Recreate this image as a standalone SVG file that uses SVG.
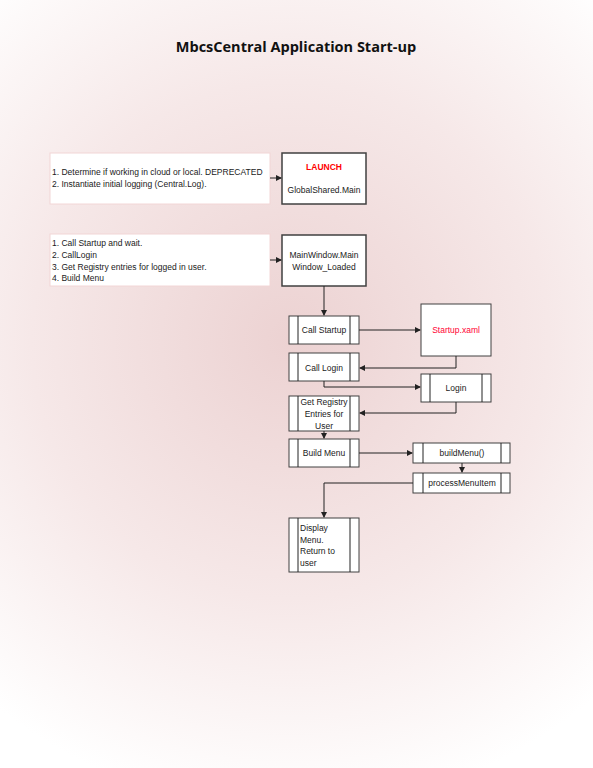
<svg xmlns="http://www.w3.org/2000/svg" width="593" height="768" viewBox="0 0 593 768">
<defs>
<radialGradient id="bg" gradientUnits="userSpaceOnUse" cx="290" cy="340" r="470">
<stop offset="0" stop-color="#ecd2d2"/>
<stop offset="0.55" stop-color="#f6e8e8"/>
<stop offset="1" stop-color="#ffffff"/>
</radialGradient>
<marker id="ah" markerWidth="6" markerHeight="6" refX="5" refY="3" orient="auto" markerUnits="userSpaceOnUse">
<path d="M0,0 L6,3 L0,6 Z" fill="#222"/>
</marker>
<style>
.t{font-family:"Liberation Sans",Arial,sans-serif;font-size:8.5px;fill:#1a1a1a}
.c{text-anchor:middle}
.note{fill:#ffffff;stroke:#f2d6d6;stroke-width:1}
.box{fill:#ffffff;stroke:#404040;stroke-width:1.5}
.sub{fill:#ffffff;stroke:#404040;stroke-width:1}
.ln{fill:none;stroke:#222;stroke-width:1}
.red{fill:#ff0000;font-weight:bold}
</style>
</defs>
<rect x="0" y="0" width="593" height="768" fill="url(#bg)"/>
<text x="296" y="52" text-anchor="middle" style="font-family:'Open Sans','Liberation Sans',sans-serif;font-size:14.5px;font-weight:bold;fill:#111">MbcsCentral Application Start-up</text>

<g id="note1">
<rect class="note" x="50" y="153" width="220" height="51"/>
<text class="t" x="52" y="175">1. Determine if working in cloud or local. DEPRECATED</text>
<text class="t" x="52" y="187">2. Instantiate initial logging (Central.Log).</text>
</g>
<g id="launch">
<rect class="box" x="282" y="153" width="84" height="51"/>
<text class="t c red" x="324" y="170">LAUNCH</text>
<text class="t c" x="324" y="193">GlobalShared.Main</text>
</g>
<g id="note2">
<rect class="note" x="50" y="234" width="220" height="52"/>
<text class="t" x="52" y="246">1. Call Startup and wait.</text>
<text class="t" x="52" y="258">2. CallLogin</text>
<text class="t" x="52" y="270">3. Get Registry entries for logged in user.</text>
<text class="t" x="52" y="281">4. Build Menu</text>
</g>
<g id="mainwindow">
<rect class="box" x="282" y="235" width="84" height="51"/>
<text class="t c" x="324" y="258">MainWindow.Main</text>
<text class="t c" x="324" y="270">Window_Loaded</text>
</g>
<g id="callstartup">
<rect class="sub" x="289" y="316" width="70" height="28"/>
<line class="ln" x1="298" y1="316" x2="298" y2="344"/>
<line class="ln" x1="350" y1="316" x2="350" y2="344"/>
<text class="t c" x="324" y="333">Call Startup</text>
</g>
<g id="startupxaml">
<rect class="sub" x="421" y="304" width="70" height="52"/>
<text class="t c" x="456" y="333" style="fill:#ff0033">Startup.xaml</text>
</g>
<g id="calllogin">
<rect class="sub" x="289" y="353" width="70" height="28"/>
<line class="ln" x1="298" y1="353" x2="298" y2="381"/>
<line class="ln" x1="350" y1="353" x2="350" y2="381"/>
<text class="t c" x="324" y="371">Call Login</text>
</g>
<g id="login">
<rect class="sub" x="421" y="374" width="70" height="28"/>
<line class="ln" x1="430" y1="374" x2="430" y2="402"/>
<line class="ln" x1="482" y1="374" x2="482" y2="402"/>
<text class="t c" x="456" y="391">Login</text>
</g>
<g id="getregistry">
<rect class="sub" x="289" y="396" width="70" height="35"/>
<line class="ln" x1="298" y1="396" x2="298" y2="431"/>
<line class="ln" x1="350" y1="396" x2="350" y2="431"/>
<text class="t c" x="324" y="405">Get Registry</text>
<text class="t c" x="324" y="417">Entries for</text>
<text class="t c" x="324" y="429">User</text>
</g>
<g id="buildmenu">
<rect class="sub" x="289" y="439" width="70" height="28"/>
<line class="ln" x1="298" y1="439" x2="298" y2="467"/>
<line class="ln" x1="350" y1="439" x2="350" y2="467"/>
<text class="t c" x="324" y="456">Build Menu</text>
</g>
<g id="buildmenufn">
<rect class="sub" x="413" y="443" width="97" height="20"/>
<line class="ln" x1="423" y1="443" x2="423" y2="463"/>
<line class="ln" x1="501" y1="443" x2="501" y2="463"/>
<text class="t c" x="462" y="456">buildMenu()</text>
</g>
<g id="processmenuitem">
<rect class="sub" x="413" y="473" width="97" height="20"/>
<line class="ln" x1="423" y1="473" x2="423" y2="493"/>
<line class="ln" x1="501" y1="473" x2="501" y2="493"/>
<text class="t c" x="462" y="486">processMenuItem</text>
</g>
<g id="display">
<rect class="sub" x="289" y="518" width="70" height="54"/>
<line class="ln" x1="298" y1="518" x2="298" y2="572"/>
<line class="ln" x1="350" y1="518" x2="350" y2="572"/>
<text class="t" x="300" y="531">Display</text>
<text class="t" x="300" y="543">Menu.</text>
<text class="t" x="300" y="554">Return to</text>
<text class="t" x="300" y="566">user</text>
</g>

<g id="connectors">
<path class="ln" d="M270,178 H281" marker-end="url(#ah)"/>
<path class="ln" d="M270,260 H281" marker-end="url(#ah)"/>
<path class="ln" d="M324,286 V315" marker-end="url(#ah)"/>
<path class="ln" d="M359,330 H420" marker-end="url(#ah)"/>
<path class="ln" d="M456,356 V368 H360" marker-end="url(#ah)"/>
<path class="ln" d="M324,381 V387 H420" marker-end="url(#ah)"/>
<path class="ln" d="M456,402 V413 H360" marker-end="url(#ah)"/>
<path class="ln" d="M324,431 V438" marker-end="url(#ah)"/>
<path class="ln" d="M359,453 H412" marker-end="url(#ah)"/>
<path class="ln" d="M462,463 V472" marker-end="url(#ah)"/>
<path class="ln" d="M413,483 H324 V517" marker-end="url(#ah)"/>
</g>
</svg>
